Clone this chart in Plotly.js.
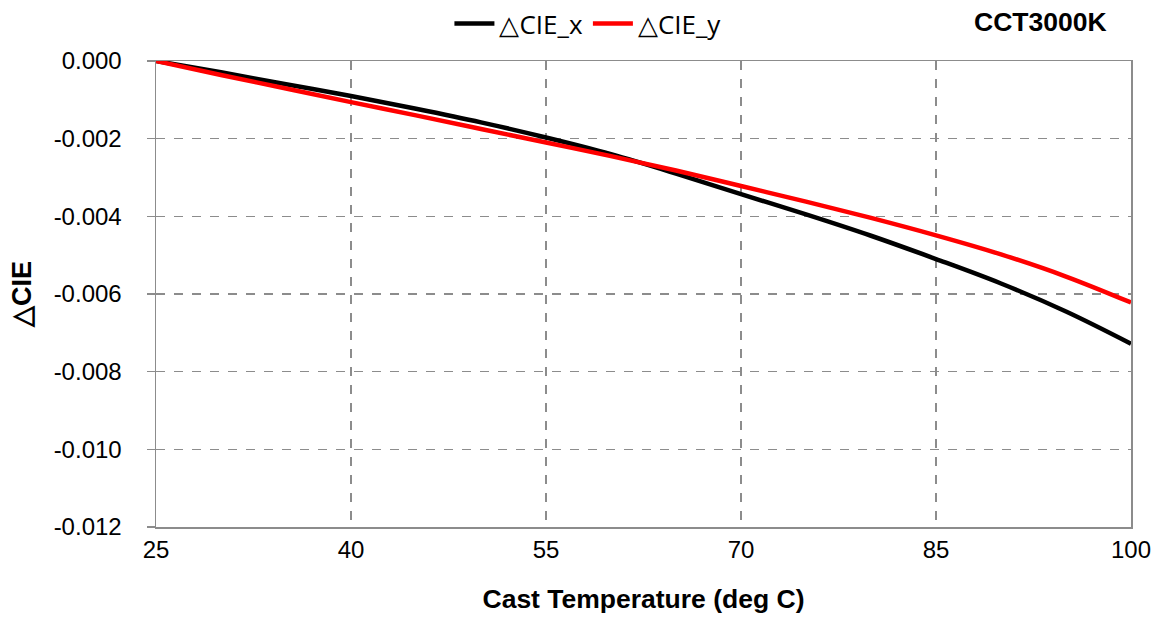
<!DOCTYPE html>
<html>
<head>
<meta charset="utf-8">
<script src="https://cdn.plot.ly/plotly-3.0.1.min.js"></script>
<style>html,body{margin:0;padding:0;background:#fff;}#chart{width:1161px;height:623px;}</style>
</head>
<body>
<div id="chart"></div>
<script>
const temperature = [25, 30, 35, 40, 45, 50, 55, 60, 65, 70, 75, 80, 85, 90, 95, 100];
const deltaCIEx = [0, -0.00029, -0.0006, -0.0009, -0.00123, -0.00158, -0.00197, -0.0024, -0.0029, -0.00343, -0.00395, -0.0045, -0.0051, -0.00573, -0.00645, -0.00728];
const deltaCIEy = [0, -0.00036, -0.00071, -0.00106, -0.0014, -0.00175, -0.0021, -0.00245, -0.00282, -0.00322, -0.00362, -0.00404, -0.00449, -0.00498, -0.00555, -0.00622];
const xTicks = [25, 40, 55, 70, 85, 100];
const yTicks = [0, -0.002, -0.004, -0.006, -0.008, -0.010, -0.012];

const traces = [
  {x: temperature, y: deltaCIEx, name: '△CIE_x', mode: 'lines',
   line: {color: '#000000', width: 4.5, shape: 'spline'}},
  {x: temperature, y: deltaCIEy, name: '△CIE_y', mode: 'lines',
   line: {color: '#ff0000', width: 4.5, shape: 'spline'}}
];

const layout = {
  width: 1161, height: 623,
  margin: {l: 156, r: 30, t: 61, b: 96},
  paper_bgcolor: '#ffffff', plot_bgcolor: '#ffffff',
  font: {family: 'Liberation Sans, Arial, sans-serif', size: 24, color: '#000'},
  xaxis: {
    range: [25, 100], tickvals: xTicks, ticktext: xTicks.map(String),
    showgrid: true, gridcolor: '#8c8c8c', griddash: 'dash', gridwidth: 1.3,
    showline: true, mirror: true, linecolor: '#8c8c8c', linewidth: 1.5,
    ticks: '', ticklabelstandoff: 1,
    zeroline: false,
    tickfont: {size: 24},
    title: {text: '<b>Cast Temperature (deg C)</b>', font: {size: 26.5}, standoff: 27}
  },
  yaxis: {
    range: [-0.012, 0], tickvals: yTicks, ticktext: yTicks.map(v => v.toFixed(3)),
    showgrid: true, gridcolor: '#8c8c8c', griddash: 'dash', gridwidth: 1.3,
    showline: true, mirror: true, linecolor: '#8c8c8c', linewidth: 1.5,
    ticks: 'outside', ticklen: 8, tickcolor: '#8c8c8c', tickwidth: 1.5,
    ticklabelstandoff: 20,
    zeroline: false,
    tickfont: {size: 24},
    title: {text: '<b>△CIE</b>', font: {size: 27}, standoff: 14}
  },
  showlegend: true,
  legend: {
    orientation: 'h', x: 0.443, xanchor: 'center', y: 1.0, yref: 'container', yanchor: 'top',
    font: {family: 'Open Sans, Liberation Sans, sans-serif', size: 26},
    itemwidth: 40, bgcolor: 'rgba(0,0,0,0)'
  },
  annotations: [{
    text: '<b>CCT3000K</b>', xref: 'paper', yref: 'paper', x: 0.907, y: 1.0, yshift: 39,
    xanchor: 'center', yanchor: 'middle', showarrow: false,
    font: {family: 'Liberation Sans, Arial, sans-serif', size: 26.5}
  }]
};

Plotly.newPlot('chart', traces, layout, {displayModeBar: false, staticPlot: true});
</script>
</body>
</html>
